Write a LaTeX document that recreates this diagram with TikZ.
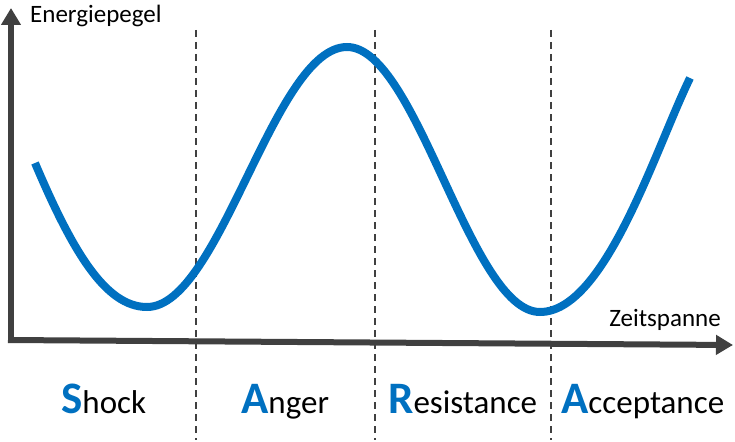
\documentclass[tikz,border=0pt]{standalone}
\usepackage{fontspec}
\setmainfont{Carlito}
\usetikzlibrary{arrows.meta}
\definecolor{curveblue}{HTML}{0070C0}
\definecolor{axisgray}{HTML}{404040}
\begin{document}
\begin{tikzpicture}[x=1pt,y=-1pt,
  axis/.style={draw=axisgray,line width=6pt,-{Triangle[length=17pt,width=19pt]}},
  divider/.style={draw=axisgray,line width=1.3pt,dash pattern=on 7pt off 5pt},
  wave/.style={draw=curveblue,line width=8pt},
  axislabel/.style={font=\fontsize{25}{28}\selectfont,inner sep=0pt},
  phase/.style={font=\fontsize{33}{36}\selectfont,inner sep=0pt,anchor=base west}]
\newcommand{\capital}[1]{\textcolor{curveblue}{\bfseries\fontsize{45}{48}\selectfont #1}}
\useasboundingbox (0,0) rectangle (735,441);
% dividers
\coordinate (d1t) at (196,30); \coordinate (d1b) at (196,440);
\coordinate (d2t) at (375,30); \coordinate (d2b) at (375,440);
\coordinate (d3t) at (551,30); \coordinate (d3b) at (551,440);
\draw[divider] (d1t) -- (d1b);
\draw[divider] (d2t) -- (d2b);
\draw[divider] (d3t) -- (d3b);
% axes
\coordinate (o) at (11,343);
\coordinate (ytip) at (11,8);
\coordinate (xo) at (8,340);
\coordinate (xtip) at (733,345);
\draw[axis] (o) -- (ytip);
\draw[axis] (xo) -- (xtip);
% curve
\coordinate (c0) at (35,163);
\coordinate (c1) at (147,307);
\coordinate (c2) at (347,47);
\coordinate (c3) at (540,312);
\coordinate (c4) at (690,78);
\draw[wave] (c0) .. controls (72,250) and (105,307) .. (c1)
  .. controls (220,307) and (274,47) .. (c2)
  .. controls (417,47) and (470,312) .. (c3)
  .. controls (605,312) and (655,150) .. (c4);
% labels
\node[axislabel,anchor=base west] (ylab) at (30,23) {Energiepegel};
\node[axislabel,anchor=base east] (xlab) at (721,326) {Zeitspanne};
\node[phase] (shock) at (61,413) {\capital{S}hock};
\node[phase] (anger) at (241,413) {\capital{A}nger};
\node[phase] (resist) at (388,413) {\capital{R}esistance};
\node[phase] (accept) at (561,413) {\capital{A}cceptance};
\end{tikzpicture}
\end{document}
